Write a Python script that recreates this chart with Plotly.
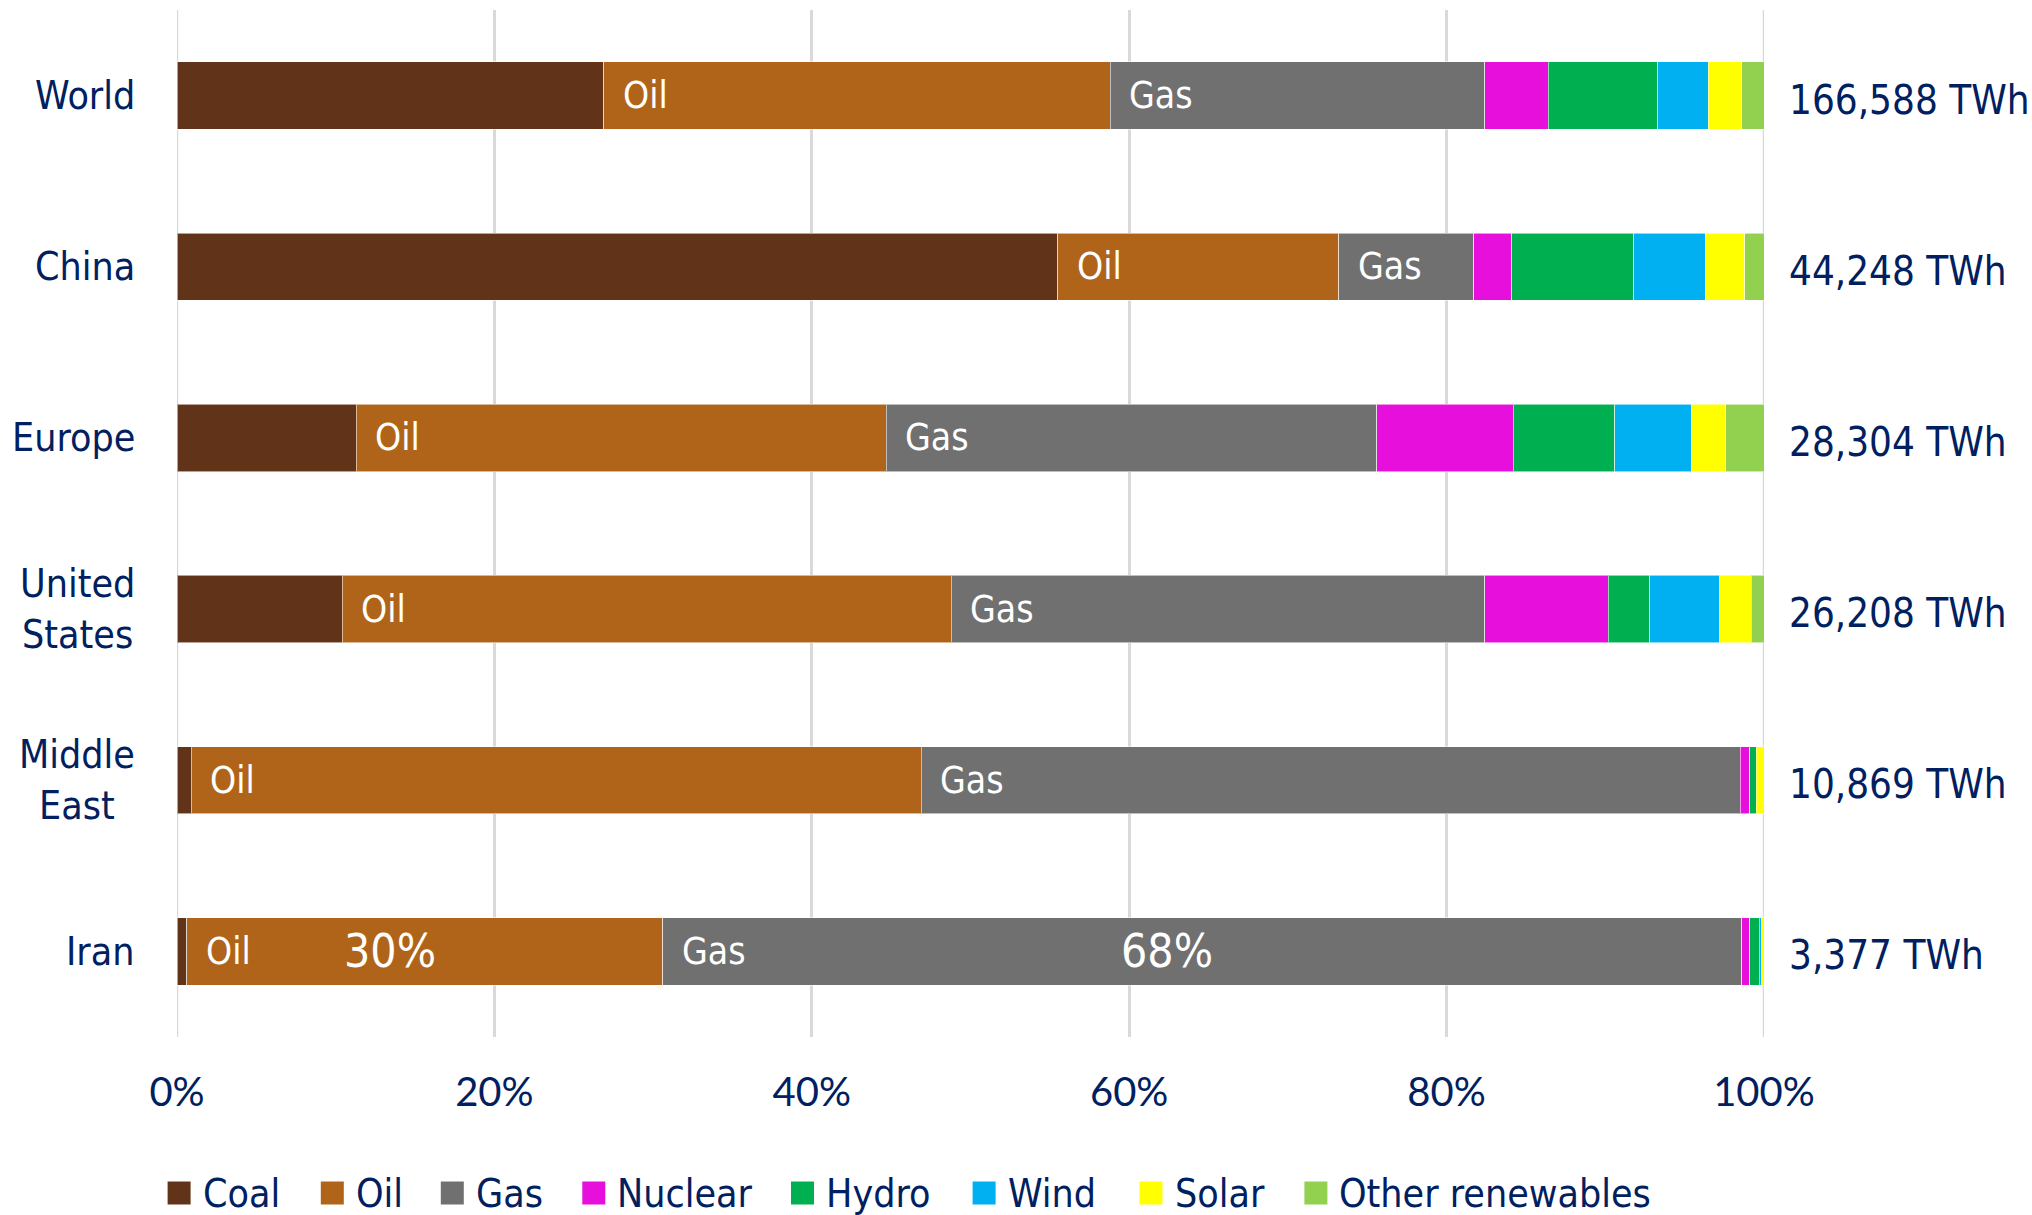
import plotly.graph_objects as go

# Primary energy mix by region (share of total, %)
regions = ["World", "China", "Europe", "United States", "Middle East", "Iran"]
region_labels = ["World", "China", "Europe", "United<br>States", "Middle<br>East", "Iran"]
totals = ["166,588 TWh", "44,248 TWh", "28,304 TWh", "26,208 TWh", "10,869 TWh", "3,377 TWh"]

coal = [26.9, 55.5, 11.3, 10.4, 0.9, 0.6]
oil = [31.9, 17.7, 33.4, 38.4, 46.0, 30.0]
gas = [23.6, 8.5, 30.9, 33.6, 51.6, 68.0]
nuclear = [4.0, 2.4, 8.6, 7.8, 0.6, 0.5]
hydro = [6.9, 7.7, 6.4, 2.6, 0.4, 0.6]
wind = [3.2, 4.5, 4.8, 4.4, 0.0, 0.15]
solar = [2.1, 2.5, 2.2, 2.0, 0.5, 0.15]
other = [1.4, 1.2, 2.4, 0.8, 0.0, 0.0]

source_names = ["Coal", "Oil", "Gas", "Nuclear", "Hydro", "Wind", "Solar", "Other renewables"]
source_values = [coal, oil, gas, nuclear, hydro, wind, solar, other]
source_colors = ["#613419", "#B06419", "#707070", "#E60FDC", "#00AF50", "#00B0F0", "#FFFF00", "#92D050"]

x_ticks = [0, 20, 40, 60, 80, 100]
x_tick_text = ["0%", "20%", "40%", "60%", "80%", "100%"]

NAVY = "#002060"
GRID = "#d9d9d9"
COND = "DejaVu Sans Condensed, DejaVu Sans, sans-serif"

W, H = 2032, 1215
ML, MR, MT, MB = 177, 268, 10, 178
PW, PH = W - ML - MR, H - MT - MB

fig = go.Figure()
for name, vals, col in zip(source_names, source_values, source_colors):
    fig.add_trace(go.Bar(
        y=regions, x=vals, name=name, orientation="h",
        marker=dict(color=col, line=dict(color="rgba(255,255,255,0.55)", width=1)),
        showlegend=False, hoverinfo="x+y+name",
    ))

annotations = []
# Region names on the left
for reg, lab in zip(regions, region_labels):
    annotations.append(dict(
        x=0, xref="paper", y=reg, yref="y", text=lab, showarrow=False,
        xanchor="right", yanchor="middle", align="center", xshift=-40,
        font=dict(family=COND, size=39, color=NAVY),
    ))
# Totals on the right
for reg, tot in zip(regions, totals):
    annotations.append(dict(
        x=100, xref="x", y=reg, yref="y", text=tot, showarrow=False,
        xanchor="left", yanchor="middle", xshift=23, yshift=-4,
        font=dict(family=COND, size=40, color=NAVY),
    ))
# "Oil" / "Gas" labels at the start of their segments
for i, reg in enumerate(regions):
    annotations.append(dict(
        x=coal[i], xref="x", y=reg, yref="y", text="Oil", showarrow=False,
        xanchor="left", yanchor="middle", xshift=17,
        font=dict(family=COND, size=37, color="white"),
    ))
    annotations.append(dict(
        x=coal[i] + oil[i], xref="x", y=reg, yref="y", text="Gas", showarrow=False,
        xanchor="left", yanchor="middle", xshift=17,
        font=dict(family=COND, size=37, color="white"),
    ))
# Iran's oil and gas shares
iran = regions.index("Iran")
annotations.append(dict(
    x=coal[iran] + oil[iran] / 2, xref="x", y="Iran", yref="y",
    text=f"{oil[iran]:.0f}%", showarrow=False, xanchor="center", yanchor="middle",
    xshift=-35, font=dict(family=COND, size=46, color="white"),
))
annotations.append(dict(
    x=coal[iran] + oil[iran] + gas[iran] / 2, xref="x", y="Iran", yref="y",
    text=f"{gas[iran]:.0f}%", showarrow=False, xanchor="center", yanchor="middle",
    xshift=-35, font=dict(family=COND, size=46, color="white"),
))

shapes = []
# Gridlines at the axis ends (0% and 100%), drawn beneath the bars
for xv in (x_ticks[0], x_ticks[-1]):
    shapes.append(dict(type="line", xref="x", yref="paper", x0=xv, x1=xv, y0=0, y1=1,
                       line=dict(color=GRID, width=2.5), layer="below"))

# Legend drawn as swatches + labels along the bottom
legend_left_px = [167.6, 320.8, 440.8, 582.3, 791.0, 972.6, 1139.5, 1304.4]
sq = 23
yc = 1193
for name, col, lx in zip(source_names, source_colors, legend_left_px):
    x0 = (lx - ML) / PW
    x1 = (lx + sq - ML) / PW
    y0 = (MT + PH - (yc + sq / 2)) / PH
    y1 = (MT + PH - (yc - sq / 2)) / PH
    shapes.append(dict(type="rect", xref="paper", yref="paper", x0=x0, x1=x1,
                       y0=y0, y1=y1, fillcolor=col, line=dict(width=0)))
    annotations.append(dict(
        x=(lx + 33 - ML) / PW, xref="paper", y=(MT + PH - yc) / PH, yref="paper",
        text=name, showarrow=False, xanchor="left", yanchor="middle",
        font=dict(family=COND, size=39, color=NAVY),
    ))

fig.update_layout(
    width=W, height=H,
    margin=dict(l=ML, r=MR, t=MT, b=MB, autoexpand=False),
    barmode="stack", bargap=0.606,
    plot_bgcolor="white", paper_bgcolor="white",
    showlegend=False,
    xaxis=dict(
        range=[0, 100], tickvals=x_ticks, ticktext=x_tick_text,
        showgrid=True, gridcolor=GRID, gridwidth=2.5,
        zeroline=False, showline=False, ticks="",
        ticklabelstandoff=28,
        tickfont=dict(family="Lato, sans-serif", size=40, color=NAVY),
    ),
    yaxis=dict(
        categoryorder="array", categoryarray=regions, autorange="reversed",
        showticklabels=False, showgrid=False, zeroline=False, ticks="",
    ),
    annotations=annotations,
    shapes=shapes,
)

fig.write_html("out.html")
